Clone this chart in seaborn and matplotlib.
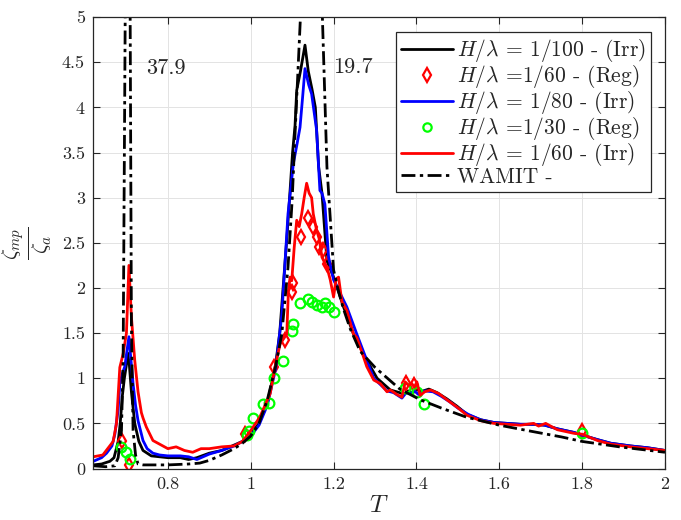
import matplotlib
matplotlib.use("Agg")
import matplotlib.pyplot as plt
import seaborn as sns
import pandas as pd
from matplotlib.lines import Line2D
from matplotlib.ticker import FuncFormatter

# ---------------- data ----------------
T_wamit = [0.62, 0.65, 0.672, 0.68, 0.688, 0.692, 0.697, 0.700, 0.703, 0.706, 0.709, 0.712,
           0.716, 0.722, 0.728, 0.74, 0.76, 0.80, 0.85, 0.877, 0.90, 0.93, 0.96, 0.98, 1.0,
           1.02, 1.04, 1.06, 1.075, 1.09, 1.10, 1.107, 1.115, 1.122, 1.13, 1.14, 1.147, 1.155,
           1.165, 1.173, 1.184, 1.2, 1.21, 1.223, 1.24, 1.264, 1.3, 1.33, 1.36, 1.41, 1.46,
           1.52, 1.6, 1.68, 1.75, 1.8, 1.89, 2.0]
y_wamit = [0.03, 0.02, 0.03, 0.12, 0.42, 1.2, 5.0, 12.0, 37.9, 12.0, 5.0, 1.6,
           0.42, 0.15, 0.05, 0.04, 0.04, 0.04, 0.05, 0.06, 0.09, 0.15, 0.22, 0.28, 0.36,
           0.5, 0.76, 1.13, 1.49, 2.23, 2.97, 3.71, 4.5, 5.2, 7.5, 12.0, 19.7, 12.0,
           7.0, 5.0, 3.34, 2.2, 2.0, 1.78, 1.55, 1.3, 1.12, 1.0, 0.88, 0.76, 0.67,
           0.57, 0.48, 0.41, 0.35, 0.30, 0.24, 0.18]

T_irr100 = [0.62, 0.64, 0.66, 0.67, 0.68, 0.685, 0.69, 0.695, 0.70, 0.703, 0.707, 0.712, 0.72,
            0.73, 0.74, 0.76, 0.78, 0.80, 0.83, 0.85, 0.87, 0.90, 0.93, 0.96, 0.98, 1.0,
            1.02, 1.04, 1.06, 1.07, 1.079, 1.088, 1.095, 1.101, 1.107, 1.111, 1.12, 1.131,
            1.139, 1.148, 1.156, 1.164, 1.172, 1.184, 1.2, 1.224, 1.248, 1.28, 1.305, 1.337,
            1.36, 1.37, 1.38, 1.39, 1.40, 1.41, 1.43, 1.45, 1.474, 1.498, 1.522, 1.555,
            1.587, 1.619, 1.651, 1.683, 1.71, 1.74, 1.78, 1.80, 1.837, 1.869, 1.917, 1.958, 2.0]
y_irr100 = [0.04, 0.05, 0.08, 0.12, 0.3, 0.5, 0.8, 1.0, 1.15, 1.28, 1.15, 0.85, 0.5,
            0.3, 0.2, 0.14, 0.13, 0.12, 0.12, 0.10, 0.12, 0.17, 0.2, 0.26, 0.3, 0.38,
            0.5, 0.72, 1.15, 1.5, 2.05, 2.6, 3.08, 3.5, 3.8, 4.19, 4.4, 4.69,
            4.4, 4.2, 4.0, 3.34, 3.05, 2.3, 2.12, 1.79, 1.49, 1.2, 1.0, 0.87,
            0.84, 0.82, 0.86, 0.84, 0.88, 0.85, 0.88, 0.84, 0.77, 0.69, 0.6, 0.54,
            0.51, 0.5, 0.49, 0.49, 0.48, 0.44, 0.4, 0.37, 0.32, 0.28, 0.25, 0.23, 0.2]

T_irr80 = [0.62, 0.64, 0.652, 0.665, 0.672, 0.68, 0.684, 0.69, 0.696, 0.706, 0.71, 0.716, 0.722,
           0.728, 0.74, 0.75, 0.764, 0.78, 0.80, 0.83, 0.85, 0.87, 0.90, 0.93, 0.96, 0.98,
           1.0, 1.02, 1.04, 1.06, 1.075, 1.09, 1.103, 1.112, 1.119, 1.125, 1.131, 1.14,
           1.147, 1.159, 1.167, 1.172, 1.179, 1.188, 1.2, 1.232, 1.256, 1.28, 1.297, 1.313,
           1.329, 1.345, 1.365, 1.375, 1.385, 1.395, 1.405, 1.42, 1.44, 1.46, 1.48, 1.50,
           1.525, 1.555, 1.587, 1.619, 1.651, 1.683, 1.71, 1.74, 1.78, 1.80, 1.837, 1.869,
           1.917, 1.958, 2.0]
y_irr80 = [0.08, 0.12, 0.17, 0.25, 0.38, 0.65, 0.94, 1.05, 1.13, 1.46, 1.25, 0.94, 0.7,
           0.53, 0.31, 0.22, 0.17, 0.15, 0.14, 0.14, 0.13, 0.1, 0.16, 0.2, 0.25, 0.3,
           0.36, 0.48, 0.7, 1.1, 1.7, 2.82, 3.38, 3.6, 3.78, 4.1, 4.43, 4.25,
           4.15, 3.75, 3.08, 3.05, 2.93, 2.34, 2.09, 1.79, 1.49, 1.2, 1.0, 0.93,
           0.86, 0.84, 0.78, 0.84, 0.83, 0.86, 0.82, 0.86, 0.85, 0.8, 0.74, 0.67,
           0.6, 0.54, 0.51, 0.5, 0.49, 0.49, 0.48, 0.44, 0.4, 0.37, 0.32, 0.28,
           0.25, 0.23, 0.2]

T_irr60 = [0.62, 0.643, 0.668, 0.676, 0.684, 0.692, 0.70, 0.706, 0.712, 0.72, 0.728, 0.736,
           0.74, 0.748, 0.764, 0.78, 0.80, 0.82, 0.84, 0.86, 0.88, 0.90, 0.93, 0.96, 0.98,
           1.0, 1.022, 1.047, 1.059, 1.071, 1.087, 1.091, 1.095, 1.099, 1.105, 1.111, 1.117,
           1.123, 1.129, 1.135, 1.141, 1.147, 1.151, 1.159, 1.165, 1.172, 1.184, 1.192, 1.2,
           1.206, 1.212, 1.22, 1.232, 1.248, 1.256, 1.272, 1.28, 1.297, 1.313, 1.329, 1.337,
           1.353, 1.365, 1.373, 1.381, 1.389, 1.395, 1.401, 1.409, 1.42, 1.434, 1.454, 1.474,
           1.498, 1.522, 1.555, 1.587, 1.619, 1.651, 1.683, 1.695, 1.712, 1.74, 1.78, 1.8,
           1.837, 1.869, 1.917, 1.958, 2.0]
y_irr60 = [0.13, 0.15, 0.3, 0.5, 1.12, 1.27, 1.5, 2.25, 1.68, 1.2, 0.85, 0.62,
           0.56, 0.46, 0.31, 0.27, 0.22, 0.24, 0.2, 0.18, 0.22, 0.22, 0.24, 0.25, 0.3,
           0.42, 0.57, 0.83, 1.13, 1.38, 1.49, 1.97, 2.12, 2.08, 2.45, 2.75, 2.68,
           2.82, 3.0, 3.16, 3.05, 3.0, 2.82, 2.64, 2.55, 2.34, 2.23, 2.09, 1.9,
           2.1, 2.12, 1.85, 1.75, 1.49, 1.45, 1.24, 1.13, 0.98, 0.94, 0.85, 0.87,
           0.82, 0.79, 0.96, 0.92, 0.94, 0.9, 0.96, 0.81, 0.85, 0.87, 0.83, 0.76,
           0.68, 0.59, 0.53, 0.5, 0.49, 0.48, 0.5, 0.47, 0.5, 0.43, 0.39, 0.38,
           0.31, 0.27, 0.24, 0.22, 0.2]

T_reg60 = [0.690, 0.705, 0.985, 1.055, 1.083, 1.099, 1.103, 1.121, 1.139, 1.150, 1.160,
           1.166, 1.174, 1.184, 1.375, 1.395, 1.800]
y_reg60 = [0.30, 0.04, 0.38, 1.12, 1.42, 1.96, 2.05, 2.57, 2.77, 2.68, 2.57,
           2.45, 2.42, 2.27, 0.95, 0.92, 0.42]

T_reg30 = [0.688, 0.698, 0.709, 0.990, 0.996, 1.006, 1.030, 1.045, 1.057, 1.079, 1.099,
           1.101, 1.119, 1.139, 1.147, 1.160, 1.172, 1.180, 1.188, 1.200, 1.373, 1.401,
           1.419, 1.800]
y_reg30 = [0.24, 0.18, 0.11, 0.37, 0.42, 0.56, 0.72, 0.73, 1.0, 1.19, 1.52,
           1.60, 1.83, 1.88, 1.85, 1.81, 1.79, 1.83, 1.79, 1.73, 0.89, 0.85,
           0.72, 0.39]

labels = [r"$H/\lambda$ = 1/100 - (Irr)", r"$H/\lambda$ =1/60 - (Reg)",
          r"$H/\lambda$ = 1/80 - (Irr)", r"$H/\lambda$ =1/30 - (Reg)",
          r"$H/\lambda$ = 1/60 - (Irr)", "WAMIT -"]
peak_labels = ["37.9", "19.7"]
peak_label_pos_T = [0.748, 1.199]
peak_label_pos_y = [4.43, 4.45]
x_ticks = [0.8, 1.0, 1.2, 1.4, 1.6, 1.8, 2.0]
y_ticks = [0, 0.5, 1, 1.5, 2, 2.5, 3, 3.5, 4, 4.5, 5]

# ---------------- style ----------------
sns.set_theme(style="ticks")
plt.rcParams.update({
    "font.family": "serif",
    "font.serif": ["cmr10", "DejaVu Serif"],
    "mathtext.fontset": "cm",
    "axes.formatter.use_mathtext": True,
    "axes.unicode_minus": False,
    "xtick.direction": "in",
    "ytick.direction": "in",
    "xtick.top": True,
    "ytick.right": True,
})

fig = plt.figure(figsize=(6.81, 5.20), dpi=100)
ax = fig.add_axes([0.137, 0.099, 0.8395, 0.868])

red = "#ff0000"
blue = "#0000ff"
green = "#00ff00"

def line_df(T, y):
    return pd.DataFrame({"T": T, "y": y})

sns.lineplot(data=line_df(T_irr100, y_irr100), x="T", y="y", ax=ax, color="black",
             lw=2.0, sort=False, estimator=None)
sns.lineplot(data=line_df(T_reg60, y_reg60), x="T", y="y", ax=ax, color=red,
             lw=0, marker="d", markersize=7, markerfacecolor="none",
             markeredgecolor=red, markeredgewidth=1.6, sort=False, estimator=None)
sns.lineplot(data=line_df(T_irr80, y_irr80), x="T", y="y", ax=ax, color=blue,
             lw=2.0, sort=False, estimator=None)
sns.lineplot(data=line_df(T_reg30, y_reg30), x="T", y="y", ax=ax, color=green,
             lw=0, marker="o", markersize=7, markerfacecolor="none",
             markeredgecolor=green, markeredgewidth=1.6, sort=False, estimator=None)
sns.lineplot(data=line_df(T_irr60, y_irr60), x="T", y="y", ax=ax, color=red,
             lw=2.0, sort=False, estimator=None)
wam_dash = (0, (5, 1.6, 1.2, 1.6))
sns.lineplot(data=line_df(T_wamit, y_wamit), x="T", y="y", ax=ax, color="black",
             lw=2.0, linestyle=wam_dash, sort=False, estimator=None)

for txt, tx, ty in zip(peak_labels, peak_label_pos_T, peak_label_pos_y):
    ax.text(tx, ty, txt, fontsize=16, ha="left", va="center")

ax.set_xlim(0.62, 2.0)
ax.set_ylim(0, 5)
ax.set_xticks(x_ticks)
ax.set_yticks(y_ticks)
fmt = FuncFormatter(lambda v, p: f"{v:g}")
ax.xaxis.set_major_formatter(fmt)
ax.yaxis.set_major_formatter(fmt)
ax.tick_params(axis="both", which="major", labelsize=13, length=5, width=0.8,
               color="#262626", pad=6)
ax.grid(True, color="#e3e3e3", lw=0.7)
ax.set_axisbelow(True)
for s in ax.spines.values():
    s.set_color("#262626")
    s.set_linewidth(0.9)

ax.set_xlabel(r"$T$", fontsize=18, labelpad=2)
ax.set_ylabel(r"$\frac{\zeta_{mp}}{\zeta_a}$", fontsize=22, labelpad=6)

handles = [
    Line2D([], [], color="black", lw=2.0),
    Line2D([], [], color=red, lw=0, marker="d", markersize=7, markerfacecolor="none",
           markeredgewidth=1.6),
    Line2D([], [], color=blue, lw=2.0),
    Line2D([], [], color=green, lw=0, marker="o", markersize=6, markerfacecolor="none",
           markeredgewidth=1.6),
    Line2D([], [], color=red, lw=2.0),
    Line2D([], [], color="black", lw=2.0, linestyle=wam_dash),
]
leg = ax.legend(handles, labels, loc="upper right", bbox_to_anchor=(0.976, 0.967),
                borderaxespad=0, fontsize=15.5, frameon=True, fancybox=False,
                edgecolor="#262626", framealpha=1, handlelength=2.4,
                handletextpad=0.2, labelspacing=-0.05, borderpad=0.25)
leg.get_frame().set_linewidth(0.9)

fig.savefig("out.png", dpi=100)
